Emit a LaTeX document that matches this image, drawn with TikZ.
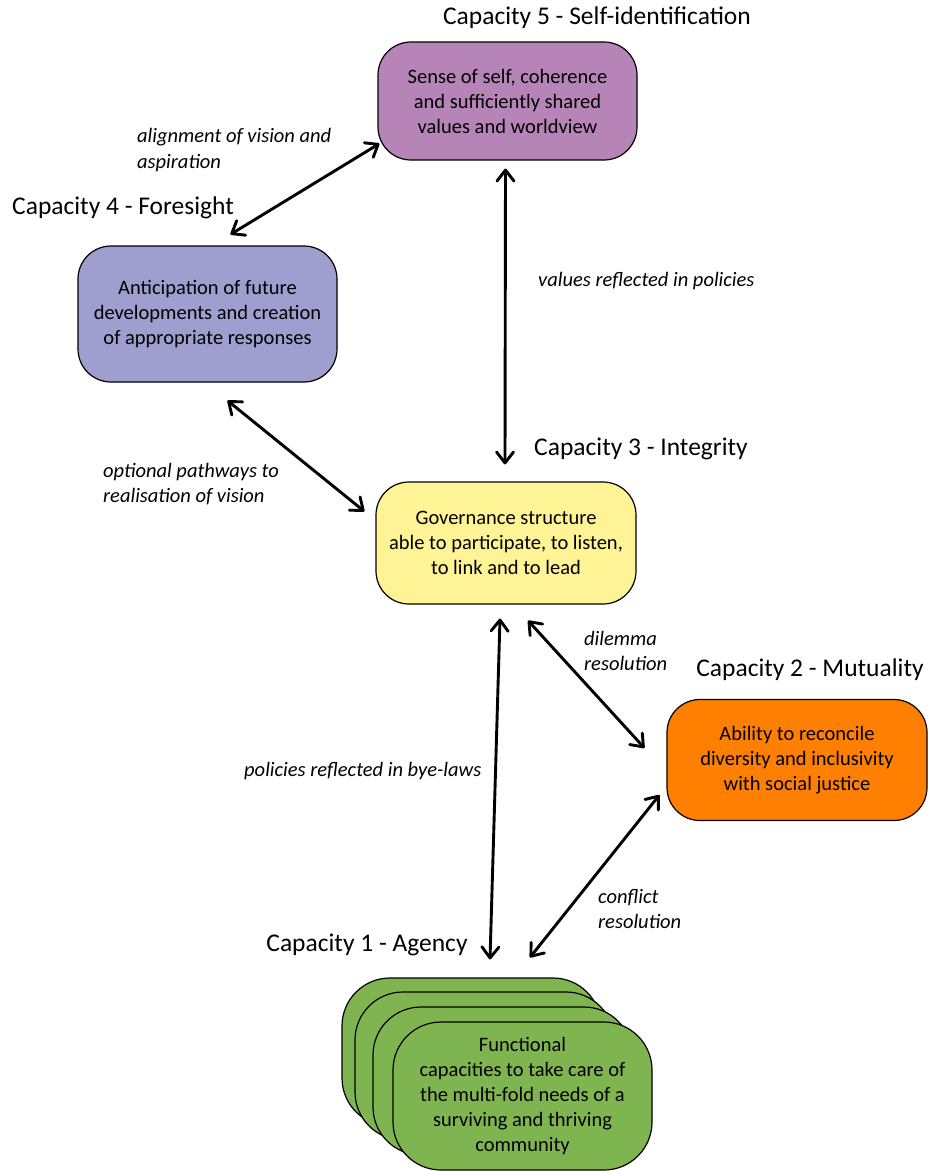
\documentclass[tikz,border=0pt]{standalone}
\usepackage{fontspec}
\setmainfont{Carlito}
\usetikzlibrary{arrows.meta, positioning, calc}
\definecolor{selfpurple}{HTML}{B784B8}
\definecolor{foreblue}{HTML}{9E9ECF}
\definecolor{integyellow}{HTML}{FFF495}
\definecolor{mutorange}{HTML}{FF8000}
\definecolor{agencygreen}{HTML}{7FB550}

\begin{document}
\begin{tikzpicture}[x=1pt, y=-1pt,
  box/.style={draw, rounded corners=33pt, minimum width=259pt, minimum height=120pt,
              align=center, inner sep=0pt, line width=1.2pt,
              font=\fontsize{20.5}{25}\selectfont},
  stackbox/.style={box, fill=agencygreen, rounded corners=48pt, minimum height=148pt},
  arrow/.style={{Straight Barb[length=11pt,width=17pt,round]}-{Straight Barb[length=11pt,width=17pt,round]},
                line width=2.9pt},
  title/.style={font=\fontsize{25.5}{30}\selectfont, inner sep=0pt},
  note/.style={font=\fontsize{20.5}{25.5}\selectfont\itshape, align=left, inner sep=0pt}
]
  \useasboundingbox (0,0) rectangle (938,1171);

  % the five capacities
  \node[box, fill=selfpurple, minimum height=118pt] (c5) at (507.5,101)
    {Sense of self, coherence\\and sufficiently shared\\values and worldview};
  \node[box, fill=foreblue, minimum height=136pt] (c4) at (207.5,314)
    {Anticipation of future\\developments and creation\\of appropriate responses};
  \node[box, fill=integyellow, minimum width=260pt, minimum height=122pt] (c3) at (506,543)
    {Governance structure\\able to participate, to listen,\\to link and to lead};
  \node[box, fill=mutorange, minimum width=260pt, minimum height=121pt] (c2) at (797,760)
    {Ability to reconcile\\diversity and inclusivity\\with social justice};

  % stack of agency boxes
  \node[stackbox] (c1a) at (471.5,1052) {};
  \node[stackbox] (c1b) at (484.5,1066) {};
  \node[stackbox] (c1c) at (502.5,1081) {};
  \node[stackbox] (c1) at (522.5,1096)
    {Functional\\capacities to take care of\\the multi-fold needs of a\\surviving and thriving\\community};

  % titles
  \node[title] (t5) at (597,18) {Capacity 5 - Self-identification};
  \node[title, anchor=west] (t4) at (12,208) {Capacity 4 - Foresight};
  \node[title] (t3) at (641,449) {Capacity 3 - Integrity};
  \node[title] (t2) at (810,670) {Capacity 2 - Mutuality};
  \node[title] (t1) at (367,945) {Capacity 1 - Agency};

  % links
  \draw[arrow] ([xshift=23pt,yshift=11pt]c4.north) -- ([xshift=2pt,yshift=17pt]c5.south west);
  \draw[arrow] ([xshift=-2pt,yshift=-8pt]c5.south) -- ([xshift=-1pt,yshift=17pt]c3.north);
  \draw[arrow] ([xshift=20pt,yshift=-18pt]c4.south) -- ([xshift=-11pt,yshift=-30pt]c3.north west);
  \draw[arrow] ([xshift=-6pt,yshift=-14pt]c3.south) -- ([xshift=18.5pt,yshift=18pt]c1a.north);
  \draw[arrow] ([xshift=22pt,yshift=-16pt]c3.south) -- ([xshift=-22pt,yshift=12pt]c2.west);
  \draw[arrow] ([xshift=-7pt,yshift=-35pt]c2.west) -- ([xshift=58.5pt,yshift=20pt]c1a.north);

  % link labels
  \node[note, anchor=west] (l54) at (137,150) {alignment of vision and\\aspiration};
  \node[note, anchor=west] (l53) at (538,281) {values reflected in policies};
  \node[note, anchor=west] (l43) at (103,484) {optional pathways to\\realisation of vision};
  \node[note, anchor=west] (l31) at (244,771) {policies reflected in bye-laws};
  \node[note, anchor=west] (l32) at (584,651) {dilemma\\resolution};
  \node[note, anchor=west] (l21) at (598,909) {conflict\\resolution};
\end{tikzpicture}
\end{document}
